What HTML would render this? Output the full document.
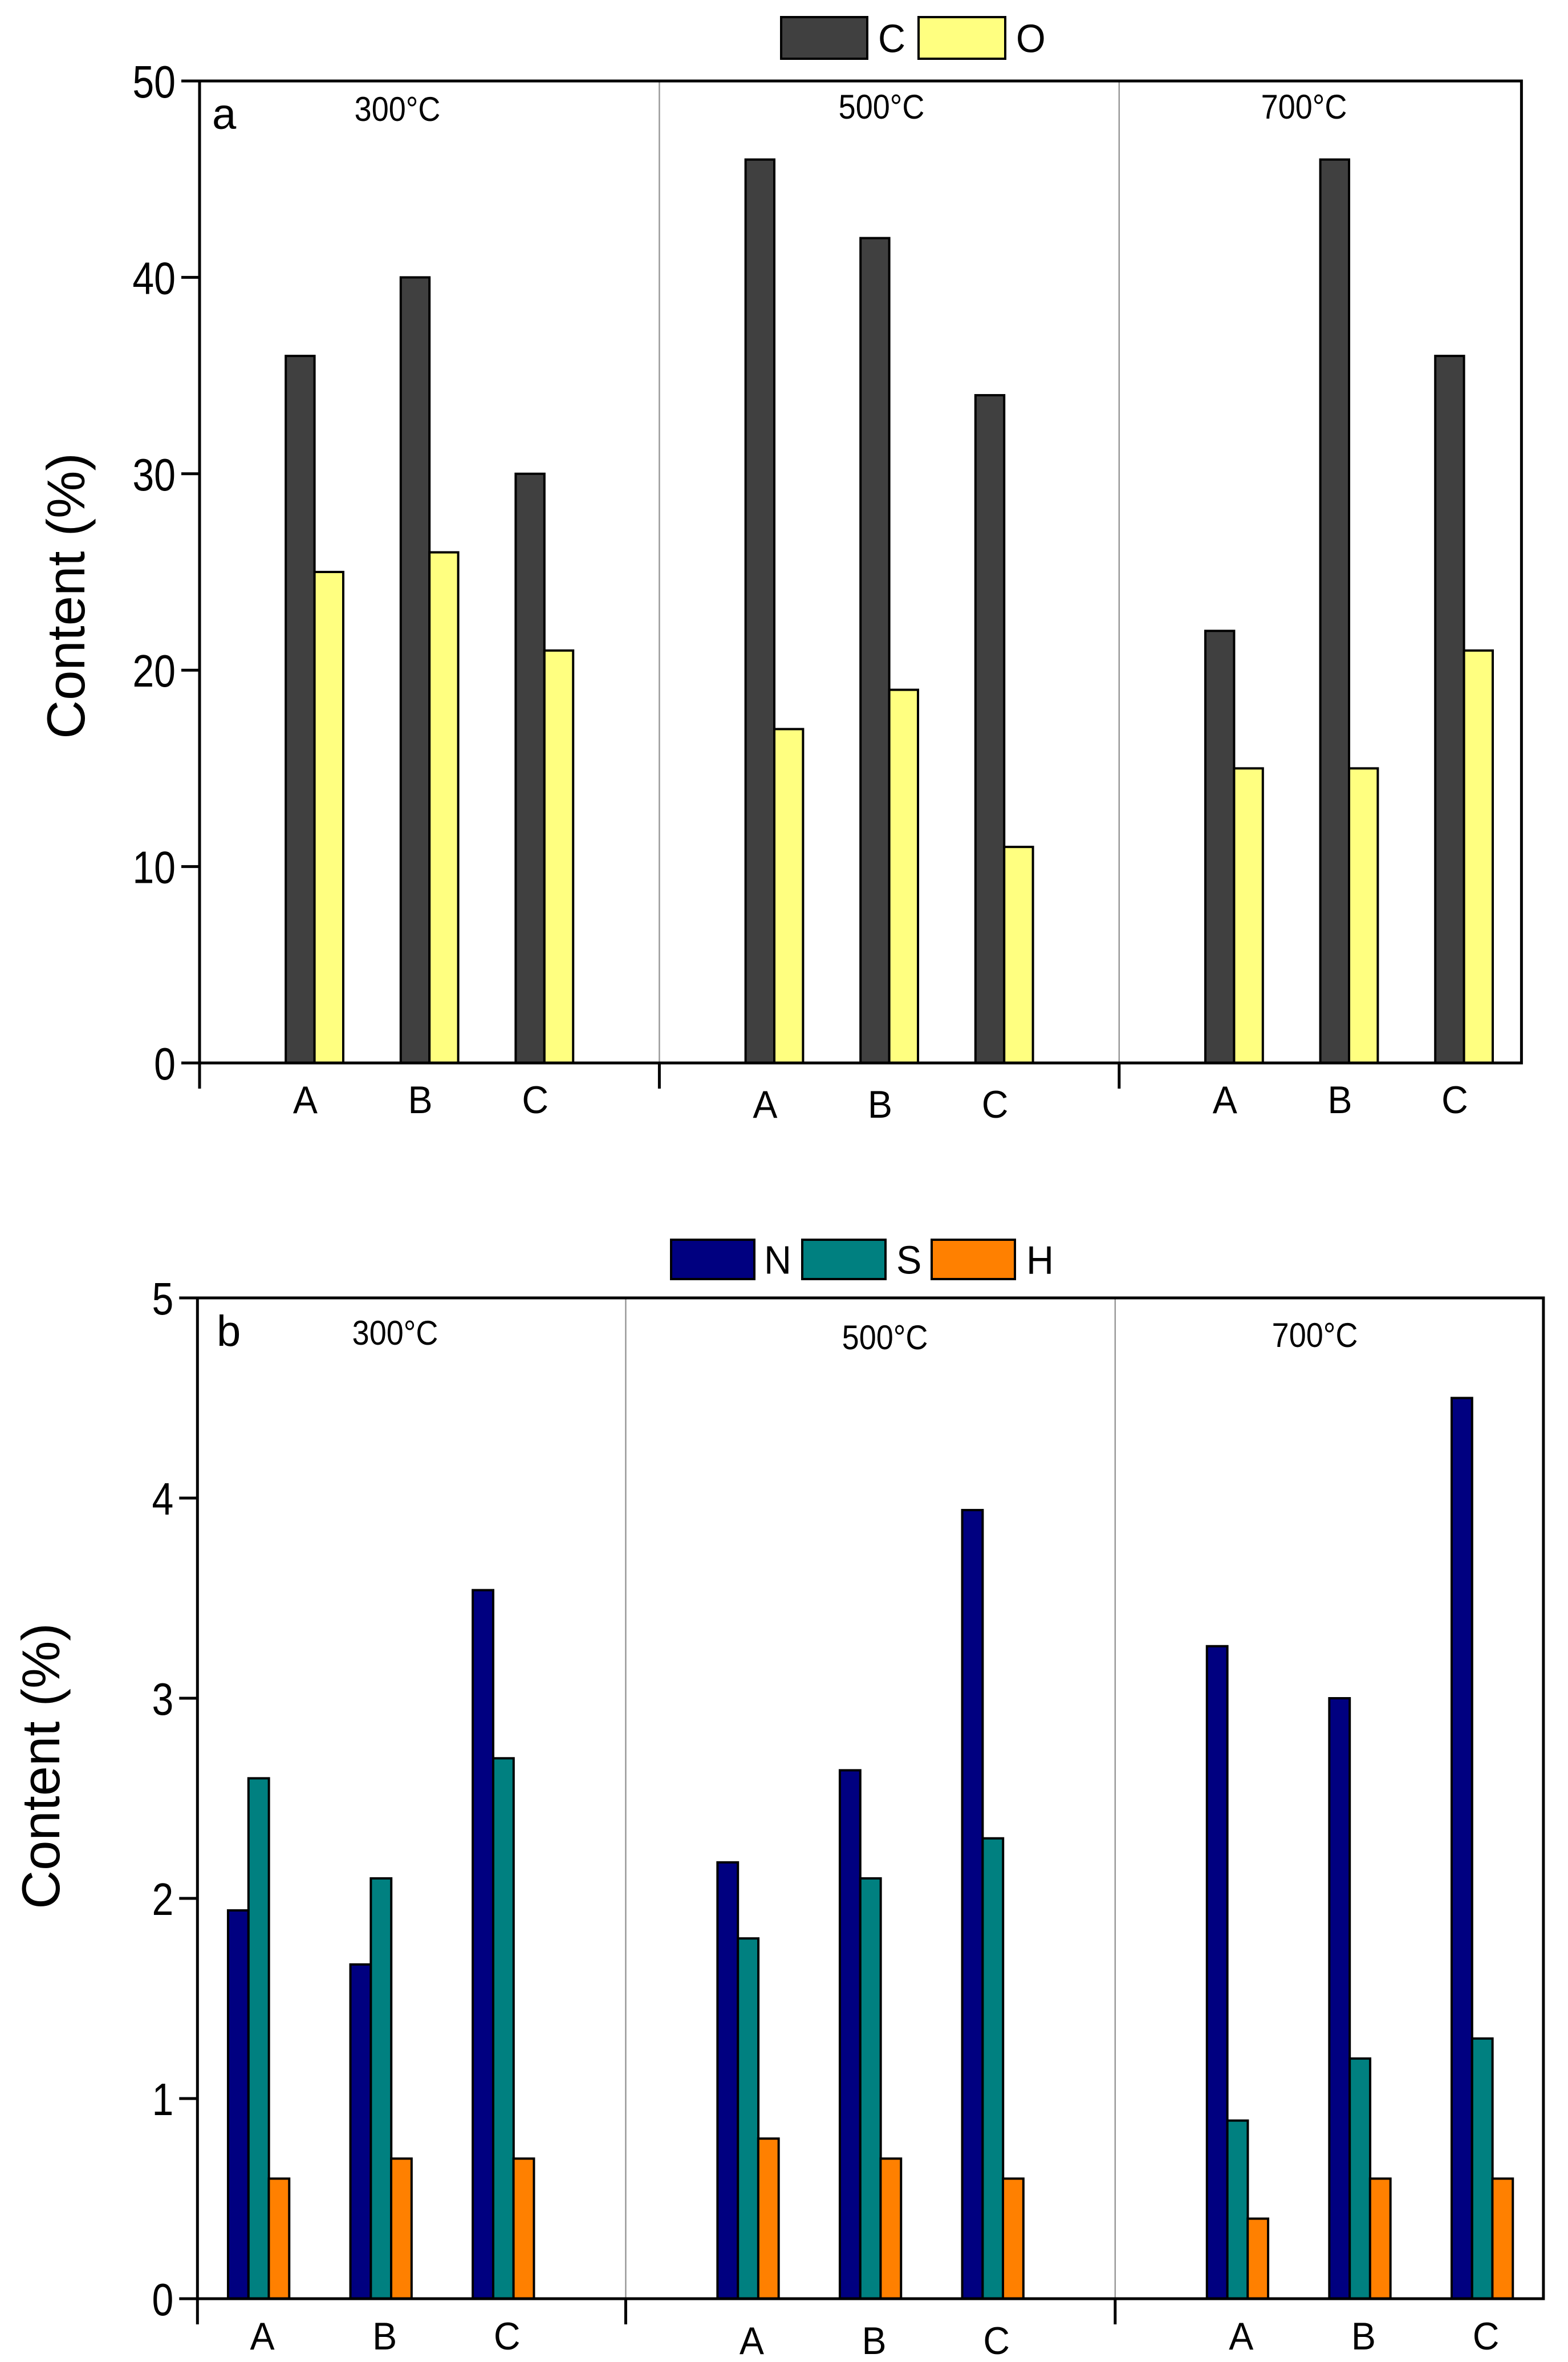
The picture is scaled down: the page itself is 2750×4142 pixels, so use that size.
<!DOCTYPE html>
<html><head><meta charset="utf-8"><style>
html,body{margin:0;padding:0;background:#fff;}
svg{display:block;}
</style></head>
<body>
<svg id="chart" width="2750" height="4142" viewBox="0 0 2750 4142" xmlns="http://www.w3.org/2000/svg" font-family="Liberation Sans, Arial, sans-serif"></svg>
<script>
const catLabels = ["A","B","C","A","B","C","A","B","C"];
const catSlots = [1,2,3,5,6,7,9,10,11];
const dividerSlots = [4,8];
const tempLabels = ["300°C","500°C","700°C"];
const aTicks = [0,10,20,30,40,50];
const bTicks = [0,1,2,3,4,5];
const cValues = [36,40,30,46,42,34,22,46,36];
const oValues = [25,26,21,17,19,11,15,15,21];
const nValues = [1.94,1.67,3.54,2.18,2.64,3.94,3.26,3.0,4.5];
const sValues = [2.6,2.1,2.7,1.8,2.1,2.3,0.89,1.2,1.3];
const hValues = [0.6,0.7,0.7,0.8,0.7,0.6,0.4,0.6,0.6];

const NS="http://www.w3.org/2000/svg";
const svg=document.getElementById('chart');
function mk(tag,attrs,parent){const e=document.createElementNS(NS,tag);for(const k in attrs)e.setAttribute(k,attrs[k]);(parent||svg).appendChild(e);return e;}
function txt(x,y,s,size,anchor,sx,parent){const t=mk('text',{transform:`translate(${x},${y}) scale(${sx},1)`,'font-size':size,'text-anchor':anchor,fill:'#000'},parent);t.textContent=s;return t;}

function panel(cfg){
  const g=mk('g',{});
  
  
  const X=k=>cfg.x0+cfg.dx*k;
  const Y=v=>cfg.yBot-(v/cfg.ymax)*(cfg.yBot-cfg.yTop);
  const L=X(cfg.kmin),R=X(11.5);
  dividerSlots.forEach(k=>{
    const d=mk('line',{x1:X(k),x2:X(k),y1:cfg.yTop,y2:cfg.yBot,stroke:'#999','stroke-width':2.5},g);
    
    
    const t=mk('line',{x1:X(k),x2:X(k),y1:cfg.yBot,y2:cfg.yBot+45,stroke:'#000','stroke-width':5},g);
    
    
  });
  const bw=cfg.bw;
  cfg.series.forEach((s,si)=>{
    s.values.forEach((v,i)=>{
      const k=catSlots[i];
      const x0=X(k+cfg.offsets[si]);
      const r=mk('rect',{x:x0,y:Y(v),width:bw*cfg.dx,height:cfg.yBot-Y(v),fill:s.color,stroke:'#000','stroke-width':4},g);
      
      
    });
  });
  const f=mk('rect',{x:L,y:cfg.yTop,width:R-L,height:cfg.yBot-cfg.yTop,fill:'none',stroke:'#000','stroke-width':5},g);
  
  
  const lt=mk('line',{x1:L,x2:L,y1:cfg.yBot,y2:cfg.yBot+45,stroke:'#000','stroke-width':5},g);
  
  
  cfg.ticks.forEach(v=>{
    const t=mk('line',{x1:L-32,x2:L,y1:Y(v),y2:Y(v),stroke:'#000','stroke-width':5},g);
    
    
    const tl=txt(L-42,Y(v)+29,String(v),80,'end',0.85,g);
    
    
  });
  catLabels.forEach((s,i)=>{
    const k=catSlots[i];
    const cx=X(k+cfg.labelOff);
    const t=txt(cx,cfg.labelY+(i>=3&&i<6?8:0),s,68,'middle',0.95,g);
    
    
  });
  cfg.temps.forEach((p,i)=>{
    const t=txt(p[0],p[1],tempLabels[i],60,'middle',0.9,g);
    
    
  });
  const pl=txt(cfg.letter[0],cfg.letter[1],cfg.letter[2],76,'start',1,g);
  
  
  const yt=mk('text',{transform:`translate(${cfg.ytitle[0]},${cfg.ytitle[1]}) rotate(-90)`,'font-size':94,'text-anchor':'middle',fill:'#000'},g);
  yt.textContent='Content (%)';
  
  
  cfg.legend.forEach(l=>{
    const r=mk('rect',{x:l.x,y:l.y,width:l.w,height:l.h,fill:l.color,stroke:'#000','stroke-width':4},g);
    
    
    const t=txt(l.tx,l.y+l.h/2+25,l.label,70,'start',0.95,g);
    
    
  });
}

panel({name:'panel-a',x0:350,dx:201.6,kmin:0,yTop:142,yBot:1864,ymax:50,ticks:aTicks,bw:0.25,offsets:[-0.25,0],
  series:[{key:'C',values:cValues,color:'#404040'},{key:'O',values:oValues,color:'#ffff80'}],
  labelOff:-0.08,labelY:1952,
  temps:[[697,212],[1546,208],[2287,208]],letter:[372,226,'a'],ytitle:[148,1045],
  legend:[{x:1370,y:30,w:151,h:73,color:'#404040',label:'C',tx:1540},{x:1611,y:30,w:152,h:73,color:'#ffff80',label:'O',tx:1782}]});

panel({name:'panel-b',x0:239,dx:214.6,kmin:0.5,yTop:2276,yBot:4031,ymax:5,ticks:bTicks,bw:0.167,offsets:[-0.25,-0.083,0.083],
  series:[{key:'N',values:nValues,color:'#000080'},{key:'S',values:sValues,color:'#008080'},{key:'H',values:hValues,color:'#ff8000'}],
  labelOff:0.03,labelY:4120,
  temps:[[693,2358],[1552,2366],[2306,2362]],letter:[380,2360,'b'],ytitle:[104,3097],
  legend:[{x:1177,y:2174,w:146,h:69,color:'#000080',label:'N',tx:1340},{x:1407,y:2174,w:146,h:69,color:'#008080',label:'S',tx:1572},{x:1634,y:2174,w:146,h:69,color:'#ff8000',label:'H',tx:1800}]});
</script>
</body></html>
